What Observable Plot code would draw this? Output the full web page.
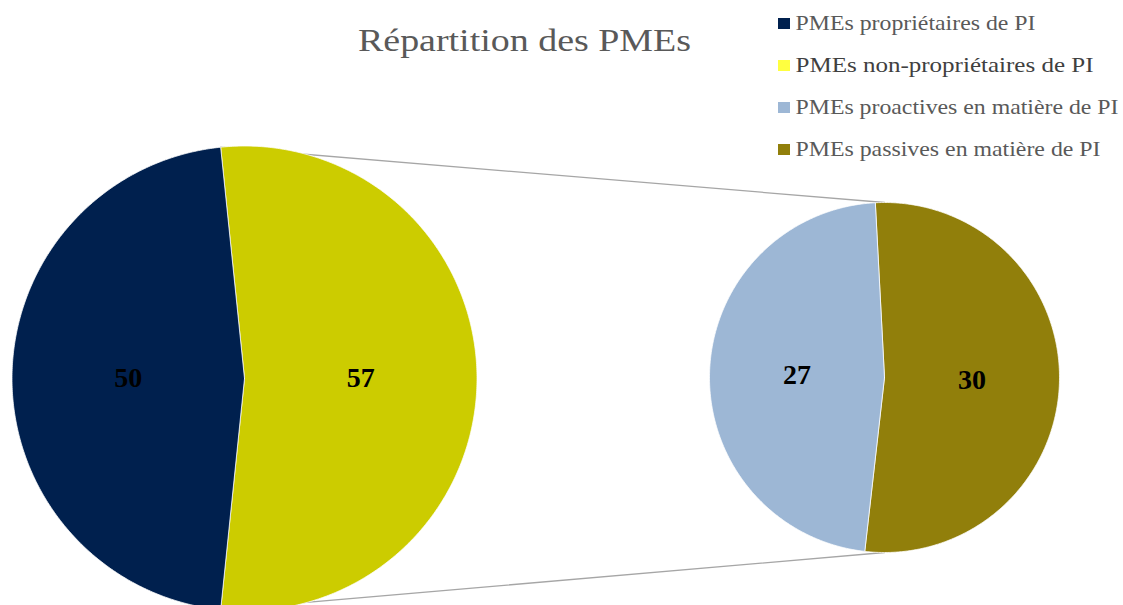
<!DOCTYPE html>
<html><head><meta charset="utf-8">
<script src="https://cdn.jsdelivr.net/npm/d3@7"></script>
<script src="https://cdn.jsdelivr.net/npm/@observablehq/plot@0.6"></script>
<style>html,body{margin:0;padding:0;background:#fff;overflow:hidden}</style>
</head><body><div id="chart"></div>
<script>
// ---- data ----
const categories = [
  "PMEs propriétaires de PI",
  "PMEs non-propriétaires de PI",
  "PMEs proactives en matière de PI",
  "PMEs passives en matière de PI"
];
const primaryCategories = ["PMEs non-propriétaires de PI", "PMEs propriétaires de PI"];
const primaryValues = [57, 50];
const secondaryCategories = ["PMEs passives en matière de PI", "PMEs proactives en matière de PI"];
const secondaryValues = [30, 27];
const titleText = "Répartition des PMEs";

// ---- styles / layout ----
const sliceColors = ["#00204E", "#CCCC00", "#9DB7D5", "#917F0B"];
const swatchColors = ["#00204E", "#FFFF40", "#9DB7D5", "#917F0B"];
const legendTextColors = ["#595959", "#404040", "#595959", "#595959"];
const legendWidths = [240, 298, 323, 305];
const W = 1123, H = 605;
const pie1 = {cx: 244, cy: 378, r: 232.5};
const pie2 = {cx: 884, cy: 377, r: 175};
const pie2Start = -3 * Math.PI / 180;
const legendX = 778, legendTextX = 795, legendBase0 = 29, legendStep = 42;

function buildPie(p, cats, vals, startAngle) {
  const arcs = d3.pie().sort(null).startAngle(startAngle).endAngle(startAngle + 2 * Math.PI)(vals);
  const pts = [], labels = [];
  const arcGen = d3.arc().innerRadius(0).outerRadius(p.r);
  arcs.forEach((a, i) => {
    const key = cats[i];
    pts.push({key, category: key, x: p.cx, y: p.cy});
    const n = Math.ceil((a.endAngle - a.startAngle) / (Math.PI / 360));
    for (let k = 0; k <= n; k++) {
      const t = a.startAngle + (a.endAngle - a.startAngle) * k / n;
      pts.push({key, category: key, x: p.cx + p.r * Math.sin(t), y: p.cy - p.r * Math.cos(t)});
    }
    pts.push({key, category: key, x: p.cx, y: p.cy});
    const c = arcGen.centroid(a);
    labels.push({x: p.cx + c[0], y: p.cy + c[1], text: String(vals[i])});
  });
  return {arcs, pts, labels};
}

const total1 = d3.sum(primaryValues);
const span1 = primaryValues[0] / total1 * 2 * Math.PI;
const P1 = buildPie(pie1, primaryCategories, primaryValues, Math.PI / 2 - span1 / 2);
const P2 = buildPie(pie2, secondaryCategories, secondaryValues, pie2Start);

const a0 = P1.arcs[0];
const connectors = [
  {id: "top", x: pie1.cx + pie1.r * Math.sin(a0.startAngle), y: pie1.cy - pie1.r * Math.cos(a0.startAngle)},
  {id: "top", x: pie2.cx, y: pie2.cy - pie2.r},
  {id: "bottom", x: pie1.cx + pie1.r * Math.sin(a0.endAngle), y: pie1.cy - pie1.r * Math.cos(a0.endAngle)},
  {id: "bottom", x: pie2.cx, y: pie2.cy + pie2.r}
];

const legendRows = categories.map((c, i) => ({
  label: c, swatch: swatchColors[i], color: legendTextColors[i], base: legendBase0 + i * legendStep
}));

const svg = Plot.plot({
  width: W, height: H, margin: 0,
  x: {domain: [0, W], range: [0, W], axis: null},
  y: {domain: [0, H], range: [0, H], axis: null},
  color: {domain: categories, range: sliceColors},
  style: {fontFamily: "'Liberation Serif', 'Times New Roman', serif", background: "white", overflow: "hidden"},
  marks: [
    Plot.line(connectors, {x: "x", y: "y", z: "id", stroke: "#A6A6A6", strokeWidth: 1.3}),
    Plot.line(P1.pts, {x: "x", y: "y", z: "key", fill: "category", stroke: "white", strokeWidth: 0.75}),
    Plot.line(P2.pts, {x: "x", y: "y", z: "key", fill: "category", stroke: "white", strokeWidth: 0.75}),
    Plot.text(P1.labels.concat(P2.labels), {x: "x", y: "y", text: "text", fontSize: 28, fontWeight: "bold", fill: "black", lineAnchor: "middle"}),
    Plot.text([{text: titleText}], {x: () => 524, y: () => 50, text: "text", fontSize: 31, fill: "#595959", textAnchor: "middle", lineAnchor: "bottom", ariaDescription: "chart-title"}),
    Plot.rect(legendRows, {x1: () => legendX, x2: () => legendX + 12, y1: d => d.base - 11, y2: d => d.base, fill: {value: "swatch", scale: null}}),
    Plot.text(legendRows, {x: () => legendTextX, y: "base", text: "label", fontSize: 22, fill: {value: "color", scale: null}, textAnchor: "start", lineAnchor: "bottom", ariaDescription: "legend-text"})
  ]
});
document.getElementById("chart").appendChild(svg);
const textGroups = d3.select(svg).selectAll('g[aria-label="text"]').nodes();
const titleGroup = textGroups[1], legendGroup = textGroups[2];
d3.select(titleGroup).selectAll("text").attr("textLength", 333).attr("lengthAdjust", "spacingAndGlyphs");
d3.select(legendGroup).selectAll("text").each(function(_, i) {
  d3.select(this).attr("textLength", legendWidths[i]).attr("lengthAdjust", "spacingAndGlyphs");
});
</script>
</body></html>
